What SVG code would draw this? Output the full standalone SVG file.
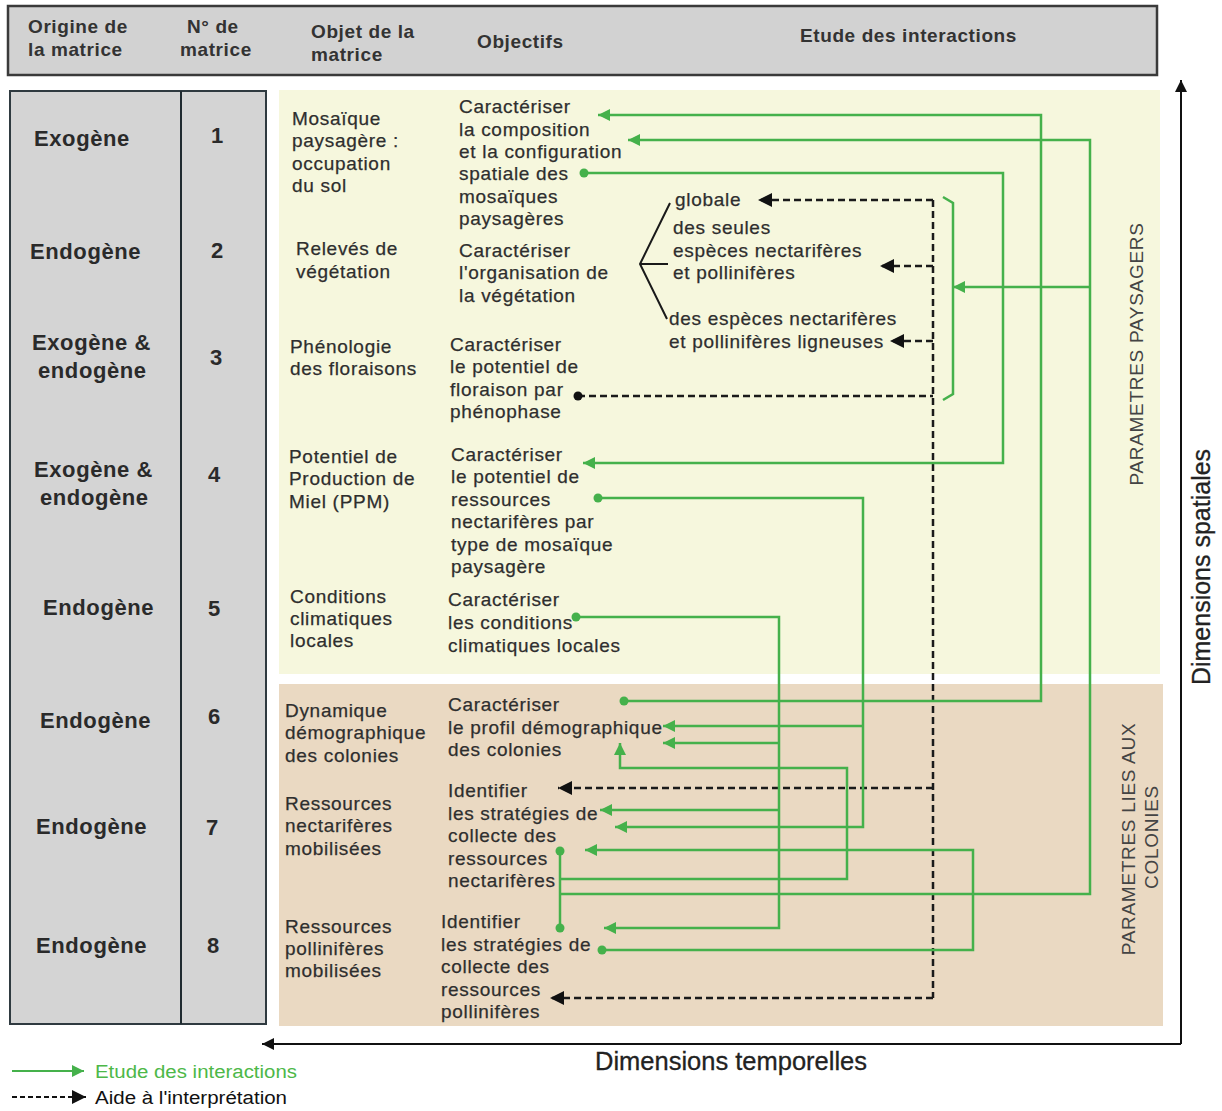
<svg xmlns="http://www.w3.org/2000/svg" width="1222" height="1111" viewBox="0 0 1222 1111">
<style>
.t{font-family:"Liberation Sans",Arial,sans-serif;font-size:19px;letter-spacing:0.7px;fill:#2e2e2e;stroke:#2e2e2e;stroke-width:0.25px}
.h{font-family:"Liberation Sans",Arial,sans-serif;font-size:19px;font-weight:bold;letter-spacing:0.6px;fill:#333}
.o{font-family:"Liberation Sans",Arial,sans-serif;font-size:22px;font-weight:bold;letter-spacing:0.6px;fill:#2a2a2a}
.n{font-family:"Liberation Sans",Arial,sans-serif;font-size:22px;font-weight:bold;fill:#2a2a2a;text-anchor:middle}
.p{font-family:"Liberation Sans",Arial,sans-serif;font-size:19px;letter-spacing:0.7px;fill:#444;text-anchor:middle}
.ax{font-family:"Liberation Sans",Arial,sans-serif;font-size:25px;fill:#222;stroke:#222;stroke-width:0.3px}
.g{fill:none;stroke:#45b14b;stroke-width:2.5}
.d{fill:none;stroke:#1a1a1a;stroke-width:2.5;stroke-dasharray:7 4}
.br{fill:none;stroke:#1a1a1a;stroke-width:2}
.dot{fill:#45b14b}
</style>
<defs>
<marker id="ag" viewBox="0 0 10 10" refX="10" refY="5" markerWidth="17" markerHeight="12" markerUnits="userSpaceOnUse" orient="auto"><path d="M0,0 L10,5 L0,10 z" fill="#45b14b"/></marker>
<marker id="ab" viewBox="0 0 10 10" refX="10" refY="5" markerWidth="18" markerHeight="14" markerUnits="userSpaceOnUse" orient="auto"><path d="M0,0 L10,5 L0,10 z" fill="#111"/></marker>
<marker id="ax" viewBox="0 0 10 10" refX="10" refY="5" markerWidth="15" markerHeight="12" markerUnits="userSpaceOnUse" orient="auto"><path d="M0,0 L10,5 L0,10 z" fill="#111"/></marker>
</defs>

<!-- backgrounds -->
<rect x="279" y="90" width="881" height="584" fill="#f6f7dd"/>
<rect x="279" y="684" width="884" height="342" fill="#ead9c2"/>

<!-- header -->
<g id="header">
<rect x="8" y="6" width="1149" height="69" fill="#d2d2d2" stroke="#3a3a3a" stroke-width="2.5"/>
<text class="h"><tspan x="28" y="33">Origine de</tspan><tspan x="28" y="56">la matrice</tspan></text>
<text class="h"><tspan x="187" y="33">N° de</tspan><tspan x="180" y="56">matrice</tspan></text>
<text class="h"><tspan x="311" y="38">Objet de la</tspan><tspan x="311" y="61">matrice</tspan></text>
<text class="h" x="477" y="48">Objectifs</text>
<text class="h" x="800" y="42">Etude des interactions</text>
</g>

<!-- left table -->
<g id="table">
<rect x="10" y="91" width="256" height="933" fill="#d4d4d4" stroke="#2f3a40" stroke-width="2"/>
<line x1="181" y1="91" x2="181" y2="1024" stroke="#1f2a30" stroke-width="2"/>
<text class="o" x="34" y="146">Exogène</text>
<text class="n" x="217" y="143">1</text>
<text class="o" x="30" y="259">Endogène</text>
<text class="n" x="217" y="258">2</text>
<text class="o"><tspan x="32" y="350">Exogène &amp;</tspan><tspan x="38" y="378">endogène</tspan></text>
<text class="n" x="216" y="365">3</text>
<text class="o"><tspan x="34" y="477">Exogène &amp;</tspan><tspan x="40" y="505">endogène</tspan></text>
<text class="n" x="214" y="482">4</text>
<text class="o" x="43" y="615">Endogène</text>
<text class="n" x="214" y="616">5</text>
<text class="o" x="40" y="728">Endogène</text>
<text class="n" x="214" y="724">6</text>
<text class="o" x="36" y="834">Endogène</text>
<text class="n" x="212" y="835">7</text>
<text class="o" x="36" y="953">Endogène</text>
<text class="n" x="213" y="953">8</text>
</g>

<!-- objets -->
<g id="objet1"><text class="t"><tspan x="292" y="125">Mosaïque</tspan><tspan x="292" y="147">paysagère :</tspan><tspan x="292" y="170">occupation</tspan><tspan x="292" y="192">du sol</tspan></text></g>
<g id="objet2"><text class="t"><tspan x="296" y="255">Relevés de</tspan><tspan x="296" y="278">végétation</tspan></text></g>
<g id="objet3"><text class="t"><tspan x="290" y="353">Phénologie</tspan><tspan x="290" y="375">des floraisons</tspan></text></g>
<g id="objet4"><text class="t"><tspan x="289" y="463">Potentiel de</tspan><tspan x="289" y="485">Production de</tspan><tspan x="289" y="508">Miel (PPM)</tspan></text></g>
<g id="objet5"><text class="t"><tspan x="290" y="603">Conditions</tspan><tspan x="290" y="625">climatiques</tspan><tspan x="290" y="647">locales</tspan></text></g>
<g id="objet6"><text class="t"><tspan x="285" y="717">Dynamique</tspan><tspan x="285" y="739">démographique</tspan><tspan x="285" y="762">des colonies</tspan></text></g>
<g id="objet7"><text class="t"><tspan x="285" y="810">Ressources</tspan><tspan x="285" y="832">nectarifères</tspan><tspan x="285" y="855">mobilisées</tspan></text></g>
<g id="objet8"><text class="t"><tspan x="285" y="933">Ressources</tspan><tspan x="285" y="955">pollinifères</tspan><tspan x="285" y="977">mobilisées</tspan></text></g>

<!-- objectifs -->
<g id="obj1"><text class="t"><tspan x="459" y="113">Caractériser</tspan><tspan x="459" y="136">la composition</tspan><tspan x="459" y="158">et la configuration</tspan><tspan x="459" y="180">spatiale des</tspan><tspan x="459" y="203">mosaïques</tspan><tspan x="459" y="225">paysagères</tspan></text></g>
<g id="obj2"><text class="t"><tspan x="459" y="257">Caractériser</tspan><tspan x="459" y="279">l'organisation de</tspan><tspan x="459" y="302">la végétation</tspan></text></g>
<g id="obj2sub">
<path class="br" d="M670,203 L640,264 L667,319 M640,264 H668"/>
<text class="t" x="675" y="206">globale</text>
<text class="t"><tspan x="673" y="234">des seules</tspan><tspan x="673" y="257">espèces nectarifères</tspan><tspan x="673" y="279">et pollinifères</tspan></text>
<text class="t"><tspan x="669" y="325">des espèces nectarifères</tspan><tspan x="669" y="348">et pollinifères ligneuses</tspan></text>
</g>
<g id="obj3"><text class="t"><tspan x="450" y="351">Caractériser</tspan><tspan x="450" y="373">le potentiel de</tspan><tspan x="450" y="396">floraison par</tspan><tspan x="450" y="418">phénophase</tspan></text></g>
<g id="obj4"><text class="t"><tspan x="451" y="461">Caractériser</tspan><tspan x="451" y="483">le potentiel de</tspan><tspan x="451" y="506">ressources</tspan><tspan x="451" y="528">nectarifères par</tspan><tspan x="451" y="551">type de mosaïque</tspan><tspan x="451" y="573">paysagère</tspan></text></g>
<g id="obj5"><text class="t"><tspan x="448" y="606">Caractériser</tspan><tspan x="448" y="629">les conditions</tspan><tspan x="448" y="652">climatiques locales</tspan></text></g>
<g id="obj6"><text class="t"><tspan x="448" y="711">Caractériser</tspan><tspan x="448" y="734">le profil démographique</tspan><tspan x="448" y="756">des colonies</tspan></text></g>
<g id="obj7"><text class="t"><tspan x="448" y="797">Identifier</tspan><tspan x="448" y="820">les stratégies de</tspan><tspan x="448" y="842">collecte des</tspan><tspan x="448" y="865">ressources</tspan><tspan x="448" y="887">nectarifères</tspan></text></g>
<g id="obj8"><text class="t"><tspan x="441" y="928">Identifier</tspan><tspan x="441" y="951">les stratégies de</tspan><tspan x="441" y="973">collecte des</tspan><tspan x="441" y="996">ressources</tspan><tspan x="441" y="1018">pollinifères</tspan></text></g>

<!-- side labels -->
<g id="labels">
<text class="p" transform="translate(1143,354) rotate(-90)">PARAMETRES PAYSAGERS</text>
<text class="p" transform="translate(1135,839) rotate(-90)">PARAMETRES LIES AUX</text>
<text class="p" transform="translate(1158,837) rotate(-90)">COLONIES</text>
<text class="ax" text-anchor="middle" transform="translate(1210,567) rotate(-90)">Dimensions spatiales</text>
<text class="ax" x="595" y="1070" textLength="272" lengthAdjust="spacingAndGlyphs">Dimensions temporelles</text>
</g>

<!-- connectors -->
<g id="connectors">
<!-- dashed (aide à l'interprétation) -->
<path class="d" d="M578,396 H933 M933,200 V998"/>
<path class="d" d="M933,200 H758" marker-end="url(#ab)"/>
<path class="d" d="M933,266 H880" marker-end="url(#ab)"/>
<path class="d" d="M933,341 H890" marker-end="url(#ab)"/>
<path class="d" d="M933,788 H558" marker-end="url(#ab)"/>
<path class="d" d="M933,998 H550" marker-end="url(#ab)"/>
<circle cx="578" cy="396" r="4.5" fill="#111"/>

<!-- green brace -->
<path class="g" d="M943,197 L953,203 V394 L943,400"/>

<!-- green (étude des interactions) -->
<path class="g" d="M624,701 H1041 V115 H598" marker-end="url(#ag)"/>
<path class="g" d="M560,894 H1090 V140 H628" marker-end="url(#ag)"/>
<path class="g" d="M1090,287 H953" marker-end="url(#ag)"/>
<path class="g" d="M584,173 H1003 V463 H583" marker-end="url(#ag)"/>
<path class="g" d="M598,498 H863 V827 H615" marker-end="url(#ag)"/>
<path class="g" d="M863,726 H663" marker-end="url(#ag)"/>
<path class="g" d="M576,617 H779 V928 H604" marker-end="url(#ag)"/>
<path class="g" d="M779,743 H663" marker-end="url(#ag)"/>
<path class="g" d="M779,810 H600" marker-end="url(#ag)"/>
<path class="g" d="M602,950 H973 V850 H585" marker-end="url(#ag)"/>
<path class="g" d="M560,851 V928"/>
<path class="g" d="M560,879 H847 V768 H620 V743" marker-end="url(#ag)"/>
<circle class="dot" cx="624" cy="701" r="4.5"/>
<circle class="dot" cx="584" cy="173" r="4.5"/>
<circle class="dot" cx="598" cy="498" r="4.5"/>
<circle class="dot" cx="576" cy="617" r="4.5"/>
<circle class="dot" cx="602" cy="950" r="4.5"/>
<circle class="dot" cx="560" cy="851" r="4.5"/>
<circle class="dot" cx="560" cy="928" r="4.5"/>

<!-- axes -->
<path d="M1181,1044 V80" stroke="#111" stroke-width="2" fill="none" marker-end="url(#ax)"/>
<path d="M1181,1044 H262" stroke="#111" stroke-width="2" fill="none" marker-end="url(#ax)"/>
</g>

<!-- legend -->
<g id="legend">
<path d="M12,1071 H84" stroke="#45b14b" stroke-width="2" fill="none" marker-end="url(#ag)"/>
<text x="95" y="1078" textLength="202" lengthAdjust="spacingAndGlyphs" style="font-family:'Liberation Sans',Arial,sans-serif;font-size:18px;fill:#4db848">Etude des interactions</text>
<path d="M12,1097 H86" stroke="#111" stroke-width="2" stroke-dasharray="5 3" fill="none" marker-end="url(#ab)"/>
<text x="95" y="1104" textLength="192" lengthAdjust="spacingAndGlyphs" style="font-family:'Liberation Sans',Arial,sans-serif;font-size:18px;fill:#111">Aide à l'interprétation</text>
</g>
</svg>
